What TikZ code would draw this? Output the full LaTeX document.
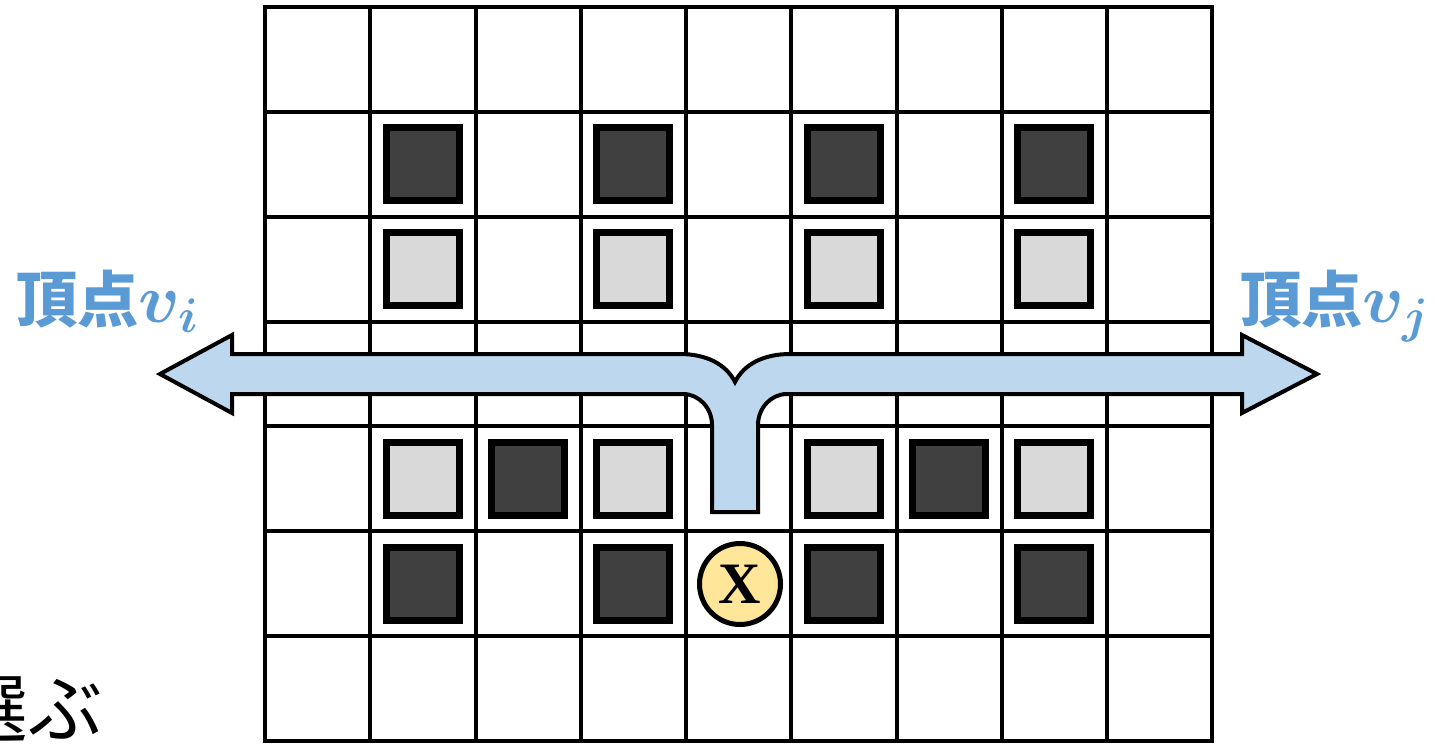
\RequirePackage{fix-cm}
\documentclass[tikz,border=0pt]{standalone}
\usepackage{fontspec}
\usepackage{amsmath,bm}
\setmainfont{Liberation Serif}
\newfontfamily\cjk{Noto Sans CJK JP}
\definecolor{lblue}{HTML}{BDD7EE}
\definecolor{tblue}{HTML}{5B9BD5}
\definecolor{dsq}{HTML}{404040}
\definecolor{lsq}{HTML}{D9D9D9}
\definecolor{ycirc}{HTML}{FFE699}
\begin{document}
\begin{tikzpicture}[x=0.75pt,y=-0.75pt,
  gridline/.style={line width=3pt,draw=black},
  sqbox/.style={draw=black,line width=5.25pt,minimum size=54.75pt,inner sep=0pt},
  dsqr/.style={sqbox,fill=dsq},
  lsqr/.style={sqbox,fill=lsq},
  xcirc/.style={circle,draw=black,line width=3.75pt,fill=ycirc,minimum size=60.75pt,inner sep=0pt,font=\fontsize{44}{46}\selectfont\bfseries},
  bigarrow/.style={draw=black,line width=3pt,fill=lblue,line join=miter},
  lbl/.style={text=tblue,inner sep=0pt}]
\useasboundingbox (0,0) rectangle (1448,744);
\clip (0,0) rectangle (1448,744);
% grid
\draw[gridline] (265,7) rectangle (1212,741);
\foreach \i in {1,...,8} \draw[gridline] ({265+\i*105.25},7) -- ({265+\i*105.25},741);
\foreach \j in {1,...,6} \draw[gridline] (265,{7+\j*104.86}) -- (1212,{7+\j*104.86});
% squares
\foreach \c/\r/\s [count=\k] in {2/2/dsqr,4/2/dsqr,6/2/dsqr,8/2/dsqr,
  2/3/lsqr,4/3/lsqr,6/3/lsqr,8/3/lsqr,
  2/5/lsqr,3/5/dsqr,4/5/lsqr,6/5/lsqr,7/5/dsqr,8/5/lsqr,
  2/6/dsqr,4/6/dsqr,6/6/dsqr,8/6/dsqr}
  \node[\s] (s\k) at ({265+(\c-0.5)*105.25},{7+(\r-0.5)*104.86}) {};
% circle
\node[xcirc] (xc) at (740,584) {X};
% brace arrow
\draw[bigarrow] (160,374) -- (232,335) -- (232,354) -- (680,354)
  .. controls (706,354) and (726,364) .. (735,382)
  .. controls (744,364) and (764,354) .. (790,354)
  -- (1242,354) -- (1242,335) -- (1317,374) -- (1242,413) -- (1242,394) -- (787,394)
  .. controls (771,394) and (758,408) .. (758,425)
  -- (758,512) -- (712,512) -- (712,425)
  .. controls (712,408) and (699,394) .. (683,394)
  -- (232,394) -- (232,413) -- cycle;
% labels
\node[lbl,anchor=base west] (vi) at (16,322) {{\fontsize{46}{50}\selectfont\cjk\bfseries 頂点}{\fontsize{52}{56}\selectfont$\bm{v}_{\bm{i}}$}};
\node[lbl,anchor=base west] (vj) at (1240,322) {{\fontsize{46}{50}\selectfont\cjk\bfseries 頂点}{\fontsize{52}{56}\selectfont$\bm{v}_{\bm{j}}$}};
\node[anchor=base east,inner sep=0pt] (sel) at (103,736) {\fontsize{56}{60}\selectfont\cjk 選ぶ};
\end{tikzpicture}
\end{document}
